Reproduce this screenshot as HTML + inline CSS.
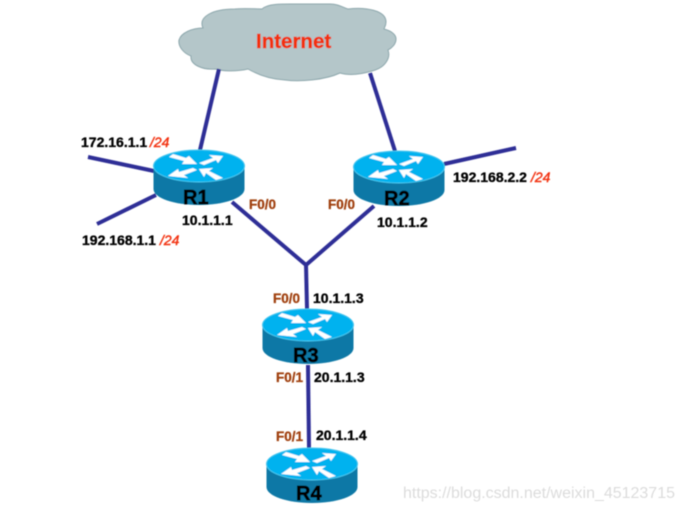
<!DOCTYPE html>
<html>
<head>
<meta charset="utf-8">
<style>
html,body{margin:0;padding:0;background:#fff;width:684px;height:511px;overflow:hidden}
svg{display:block}
text{font-family:"Liberation Sans",sans-serif}
.t{font-size:14px;font-weight:bold;fill:#000;stroke:#000;stroke-width:.35px}
.m{font-size:14px;fill:#f2300c;stroke:#f2300c;stroke-width:.4px;font-style:italic}
.p{font-size:13.5px;font-weight:bold;fill:#a0400f;stroke:#a0400f;stroke-width:.3px}
.r{font-size:20px;font-weight:bold;fill:#000;stroke:#000;stroke-width:.7px}
</style>
</head>
<body>
<svg width="684" height="511" viewBox="0 0 684 511" xmlns="http://www.w3.org/2000/svg">
<defs>
<filter id="b" x="-5%" y="-5%" width="110%" height="110%"><feGaussianBlur stdDeviation="0.4"/></filter>
<g id="router">
<path d="M-45.5 0 V23 C-45.5 32 -25 39 0 39 C25 39 45.5 32 45.5 23 V0 Z" fill="#0a78a6"/>
<ellipse cx="0" cy="0" rx="45.5" ry="16" fill="#00b2ef" stroke="#45c6ee" stroke-width="1"/>
<polygon fill="#fff" points="-30,-9 -26,-12 -13,-8 -10,-10 -2,-2 -17,-2 -15,-5"/>
<polygon fill="#fff" points="24,-10 19,-3 17,-6 5,-1 0,-3 14,-8 10,-11"/>
<polygon fill="#fff" points="-31,10 -21,3 -20,6 -6,2 -2,4 -15,9 -11,12"/>
<polygon fill="#fff" points="24,12 17,14 7,7 5,11 0,3 14,2 10,5"/>
</g>
</defs>
<g filter="url(#b)">
<path d="M179 40 C181 33 192 28 203 28 C198 17 212 9 235 9 C245 8 255 9 262 9 C268 3 285 4 300 4 L330 4 C338 4 342 7 348 9 C365 7 386 10 386 22 C386 26 384 28 384 29 C392 31 396 35 396 39 C396 44 392 48 388 50 C391 58 385 68 372 71 C362 74 350 76 340 73 C325 80 300 82 285 80 C268 79 255 73 248 69 C235 72 222 71 215 69 C203 70 190 65 191 56 C183 53 178 46 179 40 Z" fill="#b4c6c9" stroke="#8ba6ab" stroke-width="1"/>
<g stroke="#2e2e96" stroke-width="4" fill="none">
<line x1="219" y1="69" x2="200" y2="150"/>
<line x1="370" y1="73" x2="395" y2="151"/>
<line x1="88" y1="157" x2="154" y2="171"/>
<line x1="97" y1="224" x2="156" y2="195"/>
<line x1="444" y1="164" x2="516" y2="148"/>
<line x1="232" y1="202" x2="306" y2="265"/>
<line x1="374" y1="206" x2="306" y2="265"/>
<line x1="306" y1="264" x2="307" y2="309"/>
<line x1="308" y1="365" x2="309" y2="448"/>
</g>
<use href="#router" x="199" y="166"/>
<use href="#router" x="399" y="167"/>
<use href="#router" x="308" y="325"/>
<use href="#router" x="312" y="464"/>
<text x="256" y="48" font-size="20.5" font-weight="bold" fill="#f2300c" stroke="#f2300c" stroke-width="0.5">Internet</text>
<text class="r" x="183" y="204">R1</text>
<text class="r" x="384" y="205">R2</text>
<text class="r" x="293" y="362">R3</text>
<text class="r" x="296" y="500">R4</text>
<text class="t" x="81" y="147">172.16.1.1</text><text class="m" x="150" y="147">/24</text>
<text class="t" x="82" y="245">192.168.1.1</text><text class="m" x="160" y="245">/24</text>
<text class="t" x="182" y="225">10.1.1.1</text>
<text class="p" x="249" y="209">F0/0</text>
<text class="p" x="328" y="209">F0/0</text>
<text class="t" x="453" y="182">192.168.2.2</text><text class="m" x="531" y="182">/24</text>
<text class="t" x="377" y="227">10.1.1.2</text>
<text class="p" x="273" y="303">F0/0</text>
<text class="t" x="313" y="303">10.1.1.3</text>
<text class="p" x="276" y="382">F0/1</text>
<text class="t" x="314" y="382">20.1.1.3</text>
<text class="p" x="276" y="441">F0/1</text>
<text class="t" x="316" y="440">20.1.1.4</text>
<text x="403" y="498" font-size="15.5" fill="#dcdcdc" textLength="272" lengthAdjust="spacingAndGlyphs">https://blog.csdn.net/weixin_45123715</text>
</g>
</svg>
</body>
</html>
